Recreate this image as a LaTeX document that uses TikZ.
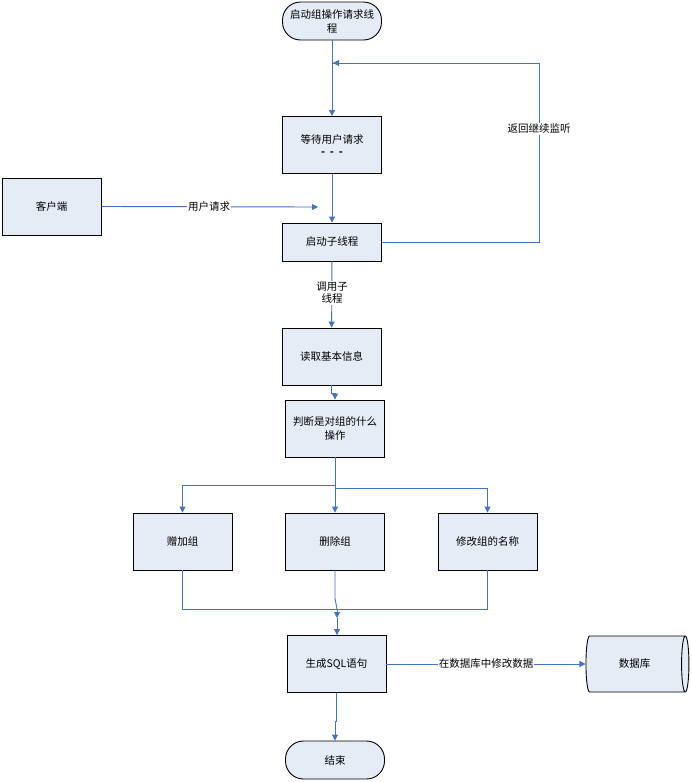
\documentclass[tikz,border=0pt]{standalone}
\usepackage{fontspec}
\setmainfont{Noto Sans CJK SC}
\usetikzlibrary{arrows.meta,shapes.geometric}

\definecolor{boxfill}{HTML}{E5ECF6}
\definecolor{flow}{HTML}{4472C4}

\begin{document}
\begin{tikzpicture}[x=1pt,y=1pt]
\tikzstyle{step box}=[rectangle, draw=black, fill=boxfill, line width=0.9pt, inner sep=1pt, minimum width=99pt, minimum height=57pt, align=center, font=\fontsize{10.5}{14}\selectfont]
\tikzstyle{terminal}=[step box, minimum height=38pt, rounded corners=18pt]
\tikzstyle{flowline}=[draw=flow, line width=0.9pt, -{Triangle[length=6pt,width=6pt]}]
\tikzstyle{plainline}=[draw=flow, line width=0.9pt]
\tikzstyle{tag}=[fill=white, inner sep=1pt, align=center, font=\fontsize{10.5}{12}\selectfont]

\useasboundingbox (0,0) rectangle (691,-782);

% Main column
\node at (332, -21) [terminal] (start) {启动组操作请求线\\程};
\node at (332, -145) [step box] (wait) {等待用户请求\\[-2pt]\textbf{-\ \ -\ \ -}};
\node at (332, -242) [step box, minimum height=38pt] (child) {启动子线程};
\node at (331.5, -356.5) [step box] (read) {读取基本信息};
\node at (335, -428.5) [step box] (judge) {判断是对组的什么\\操作};

% Client
\node at (51.5, -206.5) [step box] (client) {客户端};

% Operations
\node at (182.5, -541.5) [step box] (add) {赠加组};
\node at (335, -541.5) [step box] (del) {删除组};
\node at (487.5, -541.5) [step box] (rename) {修改组的名称};

\node at (336.5, -664) [step box] (sql) {生成SQL语句};
\node at (634.5, -664) [cylinder, draw=black, fill=boxfill, line width=0.9pt, aspect=0.45, minimum width=56pt, minimum height=103pt, font=\fontsize{10.5}{14}\selectfont] (db) {数据库};
\node at (335, -760) [terminal] (stop) {结束};

% Helper points
\coordinate (loopturn) at (539, -63);
\coordinate (loopend) at (333, -63);
\coordinate (reqend) at (318, -207);
\coordinate (split) at (335, -485);
\coordinate (merge) at (337, -609);
\coordinate (mergetip) at (337, -618);

% Connectors
\draw [flowline] (start) to (wait);
\draw [flowline] (wait) to (child);
\draw [plainline] (child.east) -| (loopturn) -- (loopend);
\draw [flowline] (loopturn) -- (loopend);
\draw [flowline] (client.east) -- (reqend);
\draw [flowline] (child) to (read);
\draw [flowline] (read.south) -- ++(0,-8) -| (judge.north);
\draw [plainline] (judge.south) -- (split);
\draw [flowline] (split) -| (add.north);
\draw [flowline] (split) -- (del.north);
\draw [flowline] (split) ++(0,-3) -| (rename.north);
\draw [plainline] (add.south) |- (merge);
\draw [plainline] (del.south) -- ++(0,-28) -- (merge);
\draw [plainline] (rename.south) |- (merge);
\draw [flowline] (merge) -- (mergetip);
\draw [flowline] (mergetip) -- (sql.north -| mergetip);
\draw [flowline] (sql.east) -- (db.west);
\draw [flowline] (sql.south) -- ++(0,-28) -| (stop.north);

% Labels
\node at (539, -129) [tag] (backtag) {返回继续监听};
\node at (209, -207) [tag] (reqtag) {用户请求};
\node at (332, -293) [tag] (calltag) {调用子\\线程};
\node at (486, -664) [tag] (dbtag) {在数据库中修改数据};
\end{tikzpicture}
\end{document}
